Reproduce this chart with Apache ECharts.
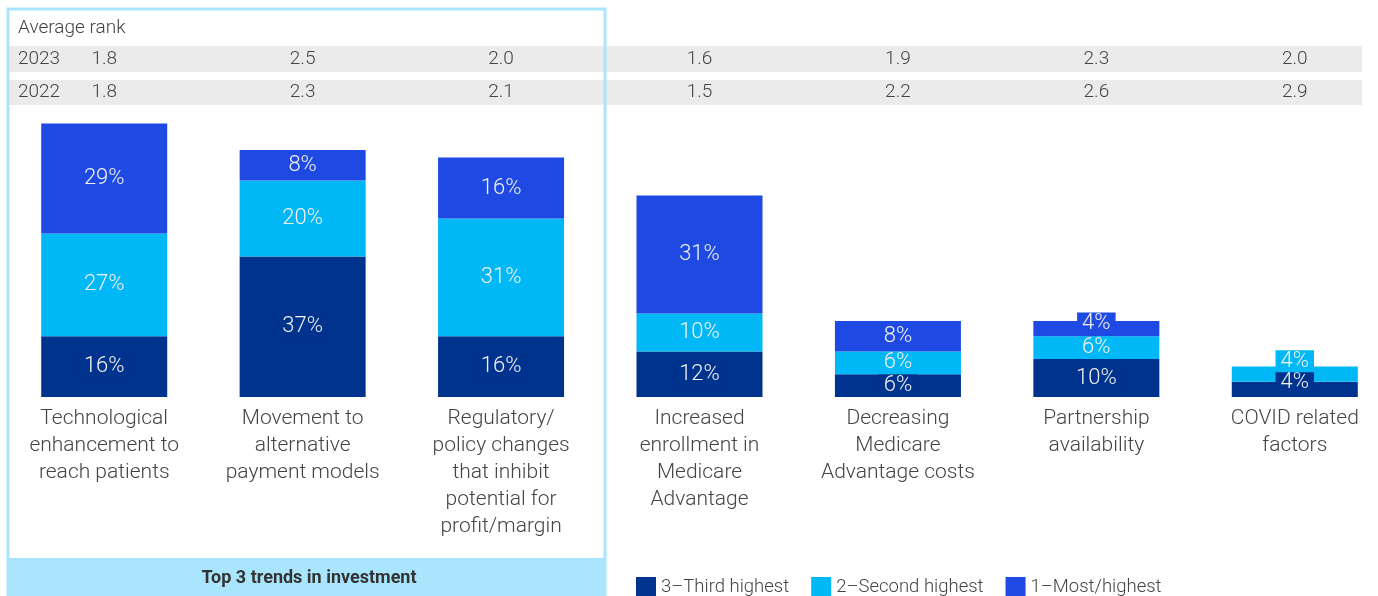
<!DOCTYPE html>
<html>
<head>
<meta charset="utf-8">
<script src="https://cdn.jsdelivr.net/npm/echarts@6/dist/echarts.min.js"></script>
<style>
  html, body { margin: 0; padding: 0; background: #fff; }
  #chart { width: 1378px; height: 596px; }
</style>
</head>
<body>
<div id="chart"></div>
<script>
// categories (line breaks as in the original)
const categories = [
  'Technological\nenhancement to\nreach patients',
  'Movement to\nalternative\npayment models',
  'Regulatory/\npolicy changes\nthat inhibit\npotential for\nprofit/margin',
  'Increased\nenrollment in\nMedicare\nAdvantage',
  'Decreasing\nMedicare\nAdvantage costs',
  'Partnership\navailability',
  'COVID related\nfactors'
]
const rank2023 = ['1.8', '2.5', '2.0', '1.6', '1.9', '2.3', '2.0']
const rank2022 = ['1.8', '2.3', '2.1', '1.5', '2.2', '2.6', '2.9']

const thirdHighest = [16, 37, 16, 12, 6, 10, 4]
const secondHighest = [27, 20, 31, 10, 6, 6, 4]
const mostHighest = [29, 8, 16, 31, 8, 4, null]

const seriesNames = ['3\u2013Third highest', '2\u2013Second highest', '1\u2013Most/highest']
const colors = ['#00338D', '#00B8F5', '#1E49E2']

const font = 'Roboto, "Noto Sans", sans-serif'
const chart = echarts.init(document.getElementById('chart'))

// small segments get their label lifted a bit, like in the original
function makeSeries(name, values, color, smallShift) {
  return {
    name: name,
    type: 'bar',
    stack: 'total',
    barWidth: 126,
    itemStyle: { color: color },
    data: values.map(function(v) {
      if (v !== null && v < 5) {
        return { value: v, label: { offset: [0, smallShift] } }
      }
      return v
    }),
    label: {
      show: true,
      position: 'inside',
      formatter: '{c}%',
      color: '#f2f2f2',
      fontSize: 22,
      fontWeight: 300,
      lineHeight: 22,
      fontFamily: font,
      backgroundColor: color,
      padding: [0, 5]
    }
  }
}

const option = {
  animation: false,
  textStyle: { fontFamily: font },
  grid: { left: 5, right: -16, top: 17, bottom: 199, outerBoundsMode: 'none', containLabel: false },
  legend: {
    left: 636,
    top: 577,
    padding: 0,
    itemWidth: 20,
    itemHeight: 20,
    itemGap: 22,
    icon: 'rect',
    data: seriesNames,
    textStyle: { color: '#444', fontSize: 18.5, fontWeight: 300, fontFamily: font }
  },
  xAxis: [
    {
      type: 'category',
      data: categories,
      axisLine: { show: false },
      axisTick: { show: false },
      axisLabel: {
        interval: 0,
        margin: 8,
        color: '#444',
        fontSize: 21,
        fontWeight: 300,
        lineHeight: 27,
        fontFamily: font
      }
    },
    {
      type: 'category',
      position: 'top',
      offset: -42,
      data: rank2023,
      axisLine: { show: false },
      axisTick: { show: false },
      axisLabel: { interval: 0, margin: 0, verticalAlign: 'middle', color: '#444', fontSize: 19, fontWeight: 300, fontFamily: font }
    },
    {
      type: 'category',
      position: 'top',
      offset: -75,
      data: rank2022,
      axisLine: { show: false },
      axisTick: { show: false },
      axisLabel: { interval: 0, margin: 0, verticalAlign: 'middle', color: '#444', fontSize: 19, fontWeight: 300, fontFamily: font }
    }
  ],
  yAxis: { type: 'value', min: 0, max: 100, show: false },
  series: [
    makeSeries(seriesNames[0], thirdHighest, colors[0], -7),
    makeSeries(seriesNames[1], secondHighest, colors[1], -13),
    makeSeries(seriesNames[2], mostHighest, colors[2], -5)
  ],
  graphic: [
    { type: 'rect', z: -10, shape: { x: 8, y: 46, width: 1354, height: 26 }, style: { fill: '#ebebeb' } },
    { type: 'rect', z: -10, shape: { x: 8, y: 80, width: 1354, height: 25 }, style: { fill: '#ebebeb' } },
    { type: 'rect', z: -10, shape: { x: 7, y: 558, width: 599, height: 38 }, style: { fill: '#A9E6FD' } },
    { type: 'rect', z: 10, shape: { x: 8, y: 9, width: 597, height: 600 }, style: { fill: null, stroke: '#A9E6FD', lineWidth: 3 } },
    { type: 'text', x: 18, y: 28, style: { text: 'Average rank', fill: '#444', font: '300 19px ' + font, verticalAlign: 'middle' } },
    { type: 'text', x: 18, y: 59, style: { text: '2023', fill: '#444', font: '300 19px ' + font, verticalAlign: 'middle' } },
    { type: 'text', x: 18, y: 92, style: { text: '2022', fill: '#444', font: '300 19px ' + font, verticalAlign: 'middle' } },
    { type: 'text', z: 11, x: 309, y: 578, style: { text: 'Top 3 trends in investment', fill: '#333', font: 'bold 18px ' + font, align: 'center', verticalAlign: 'middle' } }
  ]
}

chart.setOption(option)
</script>
</body>
</html>
